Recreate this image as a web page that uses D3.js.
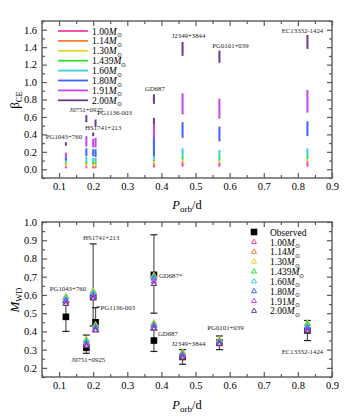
<!DOCTYPE html>
<html>
<head>
<meta charset="utf-8">
<script src="https://cdn.jsdelivr.net/npm/d3@7"></script>
<style>
  body { margin: 0; background: #fff; }
  svg { display: block; font-family: 'Liberation Serif', 'Times New Roman', serif; }
</style>
</head>
<body>
<div id="chart"></div>
<script>
// Stars and orbital periods (d)
const stars = ['PG1043+760', 'J0751+0925', 'HS1741+213', 'PG1136-003', 'GD687', 'J2349+3844', 'PG0101+039', 'EC13332-1424'];
const periods = [0.12, 0.18, 0.20, 0.207, 0.378, 0.462, 0.570, 0.828];

// Progenitor mass models (Msun)
const massLabels = ['1.00', '1.14', '1.30', '1.439', '1.60', '1.80', '1.91', '2.00'];

// beta_CE ranges per mass model, one [lo, hi] per star
const beta100 = [[0.01, 0.03], [0.01, 0.03], [0.01, 0.03], [0.01, 0.03], [0.02, 0.05], [0.03, 0.07], [0.03, 0.07], [0.03, 0.08]];
const beta114 = [[0.03, 0.045], [0.03, 0.045], [0.03, 0.045], [0.03, 0.045], [0.05, 0.07], [0.07, 0.09], [0.07, 0.08], [0.08, 0.10]];
const beta130 = [[0.045, 0.06], [0.045, 0.06], [0.045, 0.06], [0.045, 0.06], [0.07, 0.09], [0.09, 0.11], [0.08, 0.10], [0.10, 0.12]];
const beta1439 = [[0.06, 0.08], [0.06, 0.09], [0.06, 0.09], [0.06, 0.09], [0.09, 0.11], [0.11, 0.15], [0.10, 0.13], [0.12, 0.16]];
const beta160 = [[0.08, 0.10], [0.09, 0.14], [0.09, 0.13], [0.09, 0.13], [0.11, 0.15], [0.15, 0.24], [0.13, 0.22], [0.16, 0.24]];
const beta180 = [[0.10, 0.14], [0.15, 0.24], [0.15, 0.23], [0.14, 0.23], [0.15, 0.37], [0.36, 0.54], [0.32, 0.49], [0.38, 0.55]];
const beta191 = [[0.14, 0.19], [0.26, 0.38], [0.25, 0.35], [0.25, 0.36], [0.37, 0.51], [0.63, 0.87], [0.58, 0.81], [0.65, 0.91]];
const beta200 = [[0.27, 0.31], [0.54, 0.62], [0.38, 0.42], [0.49, 0.57], [0.75, 0.86], [1.30, 1.46], [1.22, 1.36], [1.38, 1.54]];
// second 2.00 Msun range for GD687 (index 4)
const beta200GD687b = [0.51, 0.59];

// Observed WD masses with errors (GD687 has two solutions; index 8 = GD687*)
const obsPeriods = [0.12, 0.18, 0.20, 0.207, 0.378, 0.462, 0.570, 0.828, 0.378];
const obsMass = [0.48, 0.31, 0.59, 0.45, 0.35, 0.26, 0.34, 0.405, 0.71];
const obsLow = [0.40, 0.28, 0.43, 0.40, 0.29, 0.22, 0.30, 0.35, 0.50];
const obsHigh = [0.56, 0.38, 0.88, 0.53, 0.41, 0.30, 0.375, 0.46, 0.93];
const obsLabels = ['PG1043+760', 'J0751+0925', 'HS1741+213', 'PG1136-003', 'GD687', 'J2349+3844', 'PG0101+039', 'EC13332-1424', 'GD687*'];

// Model WD masses, per star, for the 8 mass models
const modelMass = [
  [0.585, 0.59, 0.59, 0.585, 0.58, 0.57, 0.56, 0.55],
  [0.35, 0.355, 0.355, 0.35, 0.345, 0.335, 0.33, 0.32],
  [0.615, 0.62, 0.62, 0.615, 0.61, 0.60, 0.59, 0.58],
  [0.43, 0.435, 0.435, 0.43, 0.425, 0.42, 0.41, 0.405],
  [0.44, 0.445, 0.445, 0.44, 0.435, 0.43, 0.42, 0.415],
  [0.28, 0.285, 0.285, 0.28, 0.275, 0.27, 0.265, 0.255],
  [0.35, 0.355, 0.355, 0.35, 0.345, 0.34, 0.335, 0.33],
  [0.44, 0.445, 0.445, 0.44, 0.43, 0.42, 0.41, 0.40],
  [0.70, 0.705, 0.705, 0.70, 0.695, 0.69, 0.675, 0.66]
];

const xTicks = [0.1, 0.2, 0.3, 0.4, 0.5, 0.6, 0.7, 0.8, 0.9];
const betaTicks = [0.0, 0.2, 0.4, 0.6, 0.8, 1.0, 1.2, 1.4, 1.6];
const massTicks = [0.2, 0.3, 0.4, 0.5, 0.6, 0.7, 0.8, 0.9, 1.0];

const colors = ['#ff3fa6', '#f08232', '#e6d42a', '#33dd33', '#33d4d8', '#3d63ff', '#c445ea', '#6a3a8e'];

const W = 350, H = 420;
const svg = d3.select('#chart').append('svg').attr('width', W).attr('height', H);

const x = d3.scaleLinear().domain([0.05, 0.9]).range([42, 332]);
const yTop = d3.scaleLinear().domain([-0.1, 1.7]).range([178, 21]);
const yBot = d3.scaleLinear().domain([0.15, 1.0]).range([377, 222]);

const axisColor = '#5a5a5a';

function range(a, b, s) {
  const out = [];
  for (let v = a; v <= b + 1e-9; v += s) out.push(+v.toFixed(4));
  return out;
}

function drawFrame(y, yTickVals, yMinor, fmt) {
  const [x0, x1] = x.range();
  const [y0, y1] = y.range();
  const g = svg.append('g');

  // minor ticks
  const minorX = range(0.05, 0.9, 0.05).filter(v => !xTicks.some(t => Math.abs(t - v) < 1e-6));
  const minorY = yMinor.filter(v => !yTickVals.some(t => Math.abs(t - v) < 1e-6));

  const axB = d3.axisBottom(x).tickValues(xTicks).tickFormat(d3.format('.1f')).tickSize(-5).tickPadding(5);
  const axT = d3.axisTop(x).tickValues(xTicks).tickFormat('').tickSize(-5);
  const axL = d3.axisLeft(y).tickValues(yTickVals).tickFormat(fmt).tickSize(-5).tickPadding(5);
  const axR = d3.axisRight(y).tickValues(yTickVals).tickFormat('').tickSize(-5);

  const mB = d3.axisBottom(x).tickValues(minorX).tickFormat('').tickSize(-3);
  const mT = d3.axisTop(x).tickValues(minorX).tickFormat('').tickSize(-3);
  const mL = d3.axisLeft(y).tickValues(minorY).tickFormat('').tickSize(-3);
  const mR = d3.axisRight(y).tickValues(minorY).tickFormat('').tickSize(-3);

  const place = [
    [axB, `translate(0,${y0})`], [mB, `translate(0,${y0})`],
    [axT, `translate(0,${y1})`], [mT, `translate(0,${y1})`],
    [axL, `translate(${x0},0)`], [mL, `translate(${x0},0)`],
    [axR, `translate(${x1},0)`], [mR, `translate(${x1},0)`]
  ];
  place.forEach(([ax, tr]) => {
    const a = g.append('g').attr('transform', tr).call(ax);
    a.select('.domain').remove();
    a.selectAll('line').attr('stroke', axisColor).attr('stroke-width', 1.2);
    a.selectAll('text').attr('font-family', "'Liberation Serif', serif").attr('font-size', 10.5).attr('fill', '#000');
  });

  g.append('rect')
    .attr('x', x0).attr('y', y1)
    .attr('width', x1 - x0).attr('height', y0 - y1)
    .attr('fill', 'none').attr('stroke', axisColor).attr('stroke-width', 1.4);
}

function xTitle(yb) {
  const t = svg.append('text').attr('x', 187).attr('y', yb).attr('text-anchor', 'middle')
    .attr('font-size', 12.5).attr('fill', '#000');
  t.append('tspan').attr('font-style', 'italic').text('P');
  t.append('tspan').attr('font-size', 9).attr('dy', 3).text('orb');
  t.append('tspan').attr('dy', -3).text('/d');
}

function msun(sel, label) {
  sel.append('tspan').text(label);
  sel.append('tspan').attr('font-style', 'italic').text('M');
  sel.append('tspan').attr('font-size', 6).attr('dy', 2.5).text('\u2299');
}

// ---------------- Top panel: beta_CE ----------------
drawFrame(yTop, betaTicks, range(-0.1, 1.7, 0.1), d3.format('.1f'));

const betaSets = [beta100, beta114, beta130, beta1439, beta160, beta180, beta191, beta200];
const segs = [];
betaSets.forEach((set, m) => set.forEach((r, i) => segs.push({ p: periods[i], lo: r[0], hi: r[1], m })));
segs.push({ p: periods[4], lo: beta200GD687b[0], hi: beta200GD687b[1], m: 7 });

svg.append('g').selectAll('line').data(segs).join('line')
  .attr('x1', d => x(d.p)).attr('x2', d => x(d.p))
  .attr('y1', d => yTop(d.lo)).attr('y2', d => yTop(d.hi))
  .attr('stroke', d => colors[d.m]).attr('stroke-width', 2);

// star labels (offsets relative to top of the 2.00 bar)
const topLabelDx = [-2, 0, 10, 19, 1, 6, 11, -5];
const topLabelDy = [-3, -3, -3, -5, -3, -4, -3, -2];
svg.append('g').selectAll('text').data(stars).join('text')
  .attr('x', (d, i) => x(periods[i]) + topLabelDx[i])
  .attr('y', (d, i) => yTop(beta200[i][1]) + topLabelDy[i])
  .attr('text-anchor', 'middle').attr('font-size', 6.8).attr('fill', '#222')
  .text(d => d);

// legend
const legTop = svg.append('g');
massLabels.forEach((lab, i) => {
  const yy = 31 + i * 9.9;
  legTop.append('line').attr('x1', 58).attr('x2', 88).attr('y1', yy).attr('y2', yy)
    .attr('stroke', colors[i]).attr('stroke-width', 1.8);
  const t = legTop.append('text').attr('x', 92).attr('y', yy + 3.5).attr('font-size', 9.5).attr('fill', '#000');
  msun(t, lab);
});

// axis titles
const bt = svg.append('text').attr('transform', 'translate(19,100) rotate(-90)')
  .attr('text-anchor', 'middle').attr('font-size', 13).attr('fill', '#000');
bt.append('tspan').text('\u03B2');
bt.append('tspan').attr('font-size', 8.5).attr('dy', 3).text('CE');
xTitle(209);

// ---------------- Bottom panel: M_WD ----------------
drawFrame(yBot, massTicks, range(0.15, 1.0, 0.05), d3.format('.1f'));

const obs = obsMass.map((m, i) => ({ p: obsPeriods[i], m, lo: obsLow[i], hi: obsHigh[i], i }));
const eb = svg.append('g').attr('stroke', '#555').attr('stroke-width', 1.2);
obs.forEach(d => {
  const cx = x(d.p);
  eb.append('line').attr('x1', cx).attr('x2', cx).attr('y1', yBot(d.lo)).attr('y2', yBot(d.hi));
  eb.append('line').attr('x1', cx - 3.5).attr('x2', cx + 3.5).attr('y1', yBot(d.lo)).attr('y2', yBot(d.lo)).attr('stroke', '#222');
  eb.append('line').attr('x1', cx - 3.5).attr('x2', cx + 3.5).attr('y1', yBot(d.hi)).attr('y2', yBot(d.hi)).attr('stroke', '#222');
});
svg.append('g').selectAll('rect').data(obs).join('rect')
  .attr('x', d => x(d.p) - 3.3).attr('y', d => yBot(d.m) - 3.3)
  .attr('width', 6.6).attr('height', 6.6).attr('fill', '#000');

const tri = d3.symbol().type(d3.symbolTriangle).size(11);
const pts = [];
modelMass.forEach((row, i) => row.forEach((v, m) => pts.push({ p: obsPeriods[i], v, m })));
svg.append('g').selectAll('path').data(pts).join('path')
  .attr('d', tri)
  .attr('transform', d => `translate(${x(d.p)},${yBot(d.v)})`)
  .attr('fill', 'white').attr('fill-opacity', 0.6)
  .attr('stroke', d => colors[d.m]).attr('stroke-width', 1.1);

// star labels
const botAnchor = ['middle', 'middle', 'middle', 'start', 'start', 'middle', 'middle', 'middle', 'start'];
const botDx = [2, 2, 8, 5, 4, 6, 6, -5, 5];
const botLabelY = (d, i) => {
  if (i === 0) return yBot(d3.max(modelMass[0])) - 6;
  if (i === 1) return yBot(obsLow[1]) + 9;
  if (i === 2) return yBot(obsHigh[2]) - 4;
  if (i === 3) return yBot(obsHigh[3]) + 2;
  if (i === 4) return yBot(obsMass[4]) - 5;
  if (i === 5) return yBot(obsHigh[5]) - 4;
  if (i === 6) return yBot(obsHigh[6]) - 6;
  if (i === 7) return yBot(obsLow[7]) + 13;
  return yBot(obsMass[8]) + 3;
};
svg.append('g').selectAll('text').data(obsLabels).join('text')
  .attr('x', (d, i) => x(obsPeriods[i]) + botDx[i])
  .attr('y', botLabelY)
  .attr('text-anchor', (d, i) => botAnchor[i])
  .attr('font-size', 6.8).attr('fill', '#222')
  .text(d => d);
// leader for PG1136-003
svg.append('line')
  .attr('x1', x(obsPeriods[3]) + 1).attr('x2', x(obsPeriods[3]) + 4.5)
  .attr('y1', yBot(obsHigh[3]) - 1).attr('y2', yBot(obsHigh[3]) - 1)
  .attr('stroke', '#444').attr('stroke-width', 0.8);

// legend
const legBot = svg.append('g');
legBot.append('rect').attr('x', 254 - 3.3).attr('y', 232 - 3.3).attr('width', 6.6).attr('height', 6.6).attr('fill', '#000');
legBot.append('text').attr('x', 270).attr('y', 235.5).attr('font-size', 9.5).attr('fill', '#000').text('Observed');
massLabels.forEach((lab, i) => {
  const yy = 242 + i * 9.85;
  legBot.append('path').attr('d', tri).attr('transform', `translate(254,${yy})`)
    .attr('fill', 'white').attr('stroke', colors[i]).attr('stroke-width', 1);
  const t = legBot.append('text').attr('x', 270).attr('y', yy + 3.5).attr('font-size', 9.5).attr('fill', '#000');
  msun(t, lab);
});

const mt = svg.append('text').attr('transform', 'translate(19,300) rotate(-90)')
  .attr('text-anchor', 'middle').attr('font-size', 13).attr('fill', '#000');
mt.append('tspan').attr('font-style', 'italic').text('M');
mt.append('tspan').attr('font-size', 8.5).attr('dy', 3).text('WD');
xTitle(409);
</script>
</body>
</html>
